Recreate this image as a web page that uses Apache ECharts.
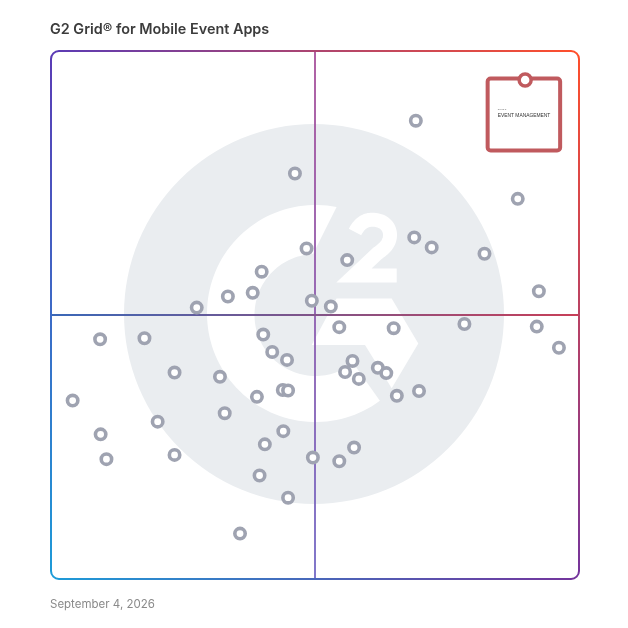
<!DOCTYPE html>
<html>
<head>
<meta charset="utf-8">
<style>
  html, body { margin: 0; padding: 0; background: #fff; }
  #chart { width: 628px; height: 628px; }
</style>
<script src="https://cdn.jsdelivr.net/npm/echarts@6/dist/echarts.min.js"></script>
</head>
<body>
<div id="chart"></div>
<script>
  // satisfaction (x) / market presence (y), both 0-100
  const productX = [69.1, 46.2, 88.4, 48.4, 68.8, 72.1, 82.1, 56.1, 39.9, 38.2, 33.5, 27.6, 49.4, 53.0, 92.4, 54.6, 64.9, 78.3, 92.0, 96.2, 9.3, 17.7, 40.2, 41.9, 44.7, 57.1, 55.7, 58.3, 61.9, 63.5, 23.4, 32.0, 43.9, 44.9, 39.0, 65.5, 69.7, 4.1, 32.9, 20.2, 9.4, 44.0, 40.5, 57.4, 10.5, 23.4, 49.6, 54.6, 39.5, 44.9, 35.8];
  const productY = [86.8, 76.8, 72.0, 62.6, 64.7, 62.8, 61.6, 60.4, 58.2, 54.2, 53.5, 51.4, 52.7, 51.6, 54.5, 47.7, 47.5, 48.3, 47.8, 43.8, 45.4, 45.6, 46.3, 43.0, 41.5, 41.3, 39.2, 37.9, 40.0, 39.0, 39.1, 38.3, 35.8, 35.7, 34.5, 34.7, 35.6, 33.8, 31.4, 29.8, 27.4, 28.0, 25.5, 24.9, 22.7, 23.5, 23.0, 22.3, 19.6, 15.4, 8.6];
  const featured = [89.8, 94.5];
  // first line of the badge is too small to read in the picture, kept as a smudge
  const featuredLines = ['• • • • •', 'EVENT MANAGEMENT'];
  const quadrantAt = 50;

  const titleText = 'G2 Grid® for Mobile Event Apps';
  const dateText = 'September 4, 2026';

  const chart = echarts.init(document.getElementById('chart'));
  const hGrad = (x1, x2, c1, c2) => new echarts.graphic.LinearGradient(x1, 0, x2, 0, [{ offset: 0, color: c1 }, { offset: 1, color: c2 }], true);
  const vGrad = (y1, y2, c1, c2) => new echarts.graphic.LinearGradient(0, y1, 0, y2, [{ offset: 0, color: c1 }, { offset: 1, color: c2 }], true);

  const TL = '#5b3bb5', TR = '#ff4f2b', BL = '#1d9bd8', BR = '#74349c';
  const logoGrey = '#eaedf0';

  // ---- G2 logo pieces behind the plot ----
  const arcPts = (cx, cy, r, a0, a1) => {
    const pts = [];
    for (let i = 0; i <= 90; i++) {
      const a = (a0 + (a1 - a0) * i / 90) * Math.PI / 180;
      pts.push([cx + r * Math.cos(a), cy + r * Math.sin(a)]);
    }
    return pts;
  };
  const bezPts = (p0, p1, p2, p3) => {
    const pts = [];
    for (let i = 0; i <= 20; i++) {
      const t = i / 20, u = 1 - t;
      pts.push([
        u * u * u * p0[0] + 3 * u * u * t * p1[0] + 3 * u * t * t * p2[0] + t * t * t * p3[0],
        u * u * u * p0[1] + 3 * u * u * t * p1[1] + 3 * u * t * t * p2[1] + t * t * t * p3[1]
      ]);
    }
    return pts;
  };
  const logoPoly = points => ({ type: 'polygon', z: 1, silent: true, shape: { points }, style: { fill: '#fff' } });
  const gLetter = arcPts(315.5, 313.5, 108.5, -78.8, -306.4).concat(arcPts(315.5, 315, 61, 52, 267.7));
  const chevron = [[336.5, 298.5], [391.7, 298.5], [418.3, 343.5], [391.7, 388.3], [365, 345], [311.7, 345]];
  const two = bezPts([355, 232], [359, 224], [365, 219.7], [372, 219.7])
    .concat(bezPts([372, 219.7], [383, 219.7], [390, 226], [390, 235]))
    .concat(bezPts([390, 235], [390, 243], [385, 248], [378, 253]))
    .concat([[354, 275.5], [396.7, 275.5]]);

  // ---- rounded frame, one gradient per side ----
  const frameLine = (x1, y1, x2, y2, stroke) => ({
    type: 'line', z: 5, silent: true,
    shape: { x1, y1, x2, y2 },
    style: { stroke, lineWidth: 2 }
  });
  const frameArc = (cx, cy, startAngle, stroke) => ({
    type: 'arc', z: 5, silent: true,
    shape: { cx, cy, r: 8, startAngle, endAngle: startAngle + Math.PI / 2, clockwise: true },
    style: { fill: null, stroke, lineWidth: 2 }
  });

  const featuredItem = (params, api) => {
    const [cx, cy] = api.coord([api.value(0), api.value(1)]);
    const color = '#c05a5e';
    return {
      type: 'group',
      children: [
        { type: 'rect', shape: { x: cx - 37.5, y: cy - 1.5, width: 72.5, height: 72, r: 3 }, style: { fill: '#fff', stroke: color, lineWidth: 4 } },
        { type: 'circle', shape: { cx, cy, r: 6 }, style: { fill: '#fff', stroke: color, lineWidth: 3.5 } },
        { type: 'text', style: { x: cx - 27.5, y: cy + 30, text: featuredLines[0], verticalAlign: 'middle', font: '3px "Liberation Sans"', fill: '#555' } },
        { type: 'text', style: { x: cx - 27.5, y: cy + 36, text: featuredLines[1], verticalAlign: 'middle', font: '4.9px "Liberation Sans"', fill: '#333' } }
      ]
    };
  };

  chart.setOption({
    animation: false,
    title: {
      text: titleText, left: 50, top: 23, padding: 0,
      textStyle: { fontFamily: 'Inter', fontSize: 14.4, fontWeight: 600, color: '#3c3c3c' }
    },
    grid: { left: 51, top: 51, width: 528, height: 528 },
    xAxis: { type: 'value', min: 0, max: 100, show: false },
    yAxis: { type: 'value', min: 0, max: 100, show: false },
    graphic: { elements: [
      { type: 'circle', z: 0, silent: true, shape: { cx: 314, cy: 314, r: 190 }, style: { fill: logoGrey } },
      logoPoly(gLetter),
      logoPoly(chevron),
      { type: 'polyline', z: 1, silent: true, shape: { points: two }, style: { fill: null, stroke: '#fff', lineWidth: 14, lineJoin: 'miter' } },
      frameLine(59, 51, 571, 51, hGrad(51, 579, TL, TR)),
      frameLine(59, 579, 571, 579, hGrad(51, 579, BL, BR)),
      frameLine(51, 59, 51, 571, vGrad(51, 579, TL, BL)),
      frameLine(579, 59, 579, 571, vGrad(51, 579, TR, BR)),
      frameArc(59, 59, Math.PI, TL),
      frameArc(571, 59, -Math.PI / 2, TR),
      frameArc(571, 571, 0, BR),
      frameArc(59, 571, Math.PI / 2, BL),
      { type: 'text', z: 5, silent: true, style: { x: 50, y: 599, text: dateText, font: '11.5px Inter', fill: '#8a8a8a' } }
    ] },
    series: [
      {
        type: 'scatter',
        z: 4,
        symbol: 'circle',
        symbolSize: 10.4,
        itemStyle: { color: '#fff', borderColor: '#9fa3b1', borderWidth: 3.6, opacity: 1 },
        data: productX.map((x, i) => [x, productY[i]]),
        markLine: {
          silent: true, symbol: 'none', label: { show: false }, z: 3,
          data: [
            { xAxis: quadrantAt, lineStyle: { type: 'solid', width: 1.8, color: vGrad(51, 579, '#a8509a', '#7268c4') } },
            { yAxis: quadrantAt, lineStyle: { type: 'solid', width: 1.8, color: hGrad(51, 579, '#3a68b8', '#c83f58') } }
          ]
        }
      },
      {
        type: 'custom',
        z: 6,
        renderItem: featuredItem,
        data: [featured]
      }
    ]
  });
</script>
</body>
</html>
